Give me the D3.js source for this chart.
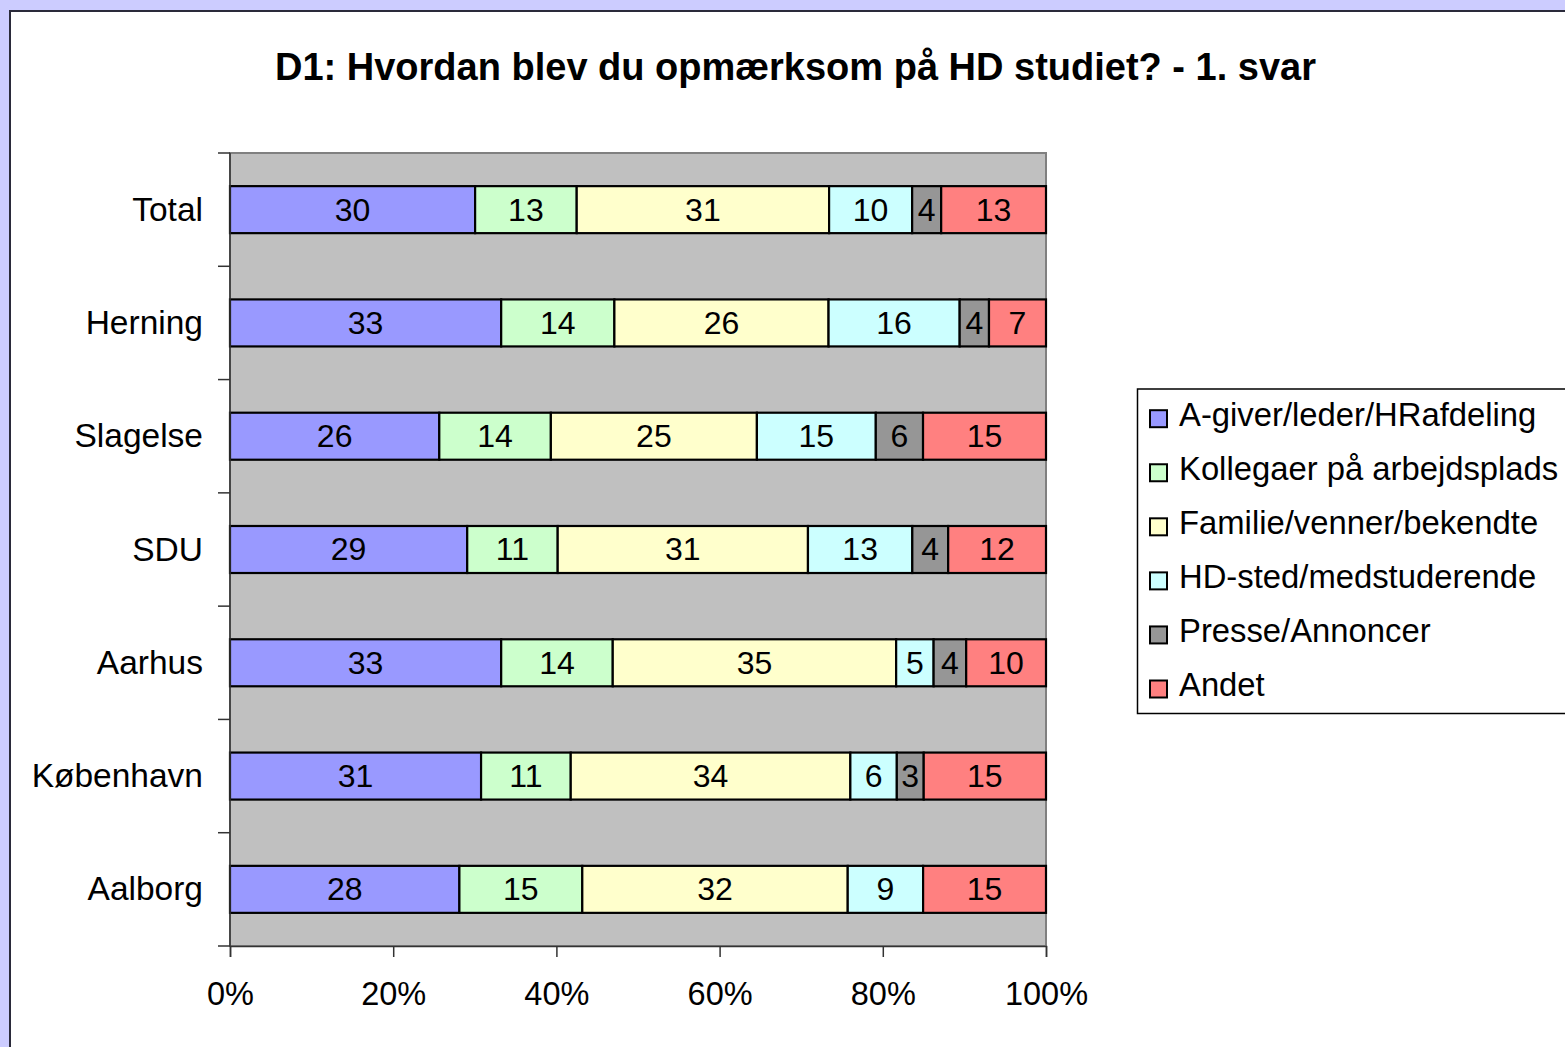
<!DOCTYPE html>
<html>
<head>
<meta charset="utf-8">
<script src="https://cdn.jsdelivr.net/npm/d3@7"></script>
<style>
  html, body { margin: 0; padding: 0; background: #ccccff; }
  svg { display: block; }
  text { font-family: "Liberation Sans", Arial, Helvetica, sans-serif; fill: #000; }
</style>
</head>
<body>
<svg id="chart" width="1565" height="1047"></svg>
<script>
// ---- data ----
const title = "D1: Hvordan blev du opmærksom på HD studiet? - 1. svar";
const categories = ["Total", "Herning", "Slagelse", "SDU", "Aarhus", "København", "Aalborg"];
const seriesNames = ["A-giver/leder/HRafdeling", "Kollegaer på arbejdsplads", "Familie/venner/bekendte",
                     "HD-sted/medstuderende", "Presse/Annoncer", "Andet"];
const seriesColors = ["#9999ff", "#ccffcc", "#ffffcc", "#ccffff", "#969696", "#ff8080"];
const agiver    = [30.4, 33.3, 25.7, 29.1, 33.3, 30.8, 28.0];
const kollegaer = [12.6, 13.9, 13.7, 11.1, 13.7, 11.0, 15.0];
const familie   = [31.3, 26.3, 25.3, 30.7, 34.8, 34.3, 32.4];
const hdsted    = [10.3, 16.1, 14.6, 12.8,  4.6,  5.7,  9.2];
const presse    = [ 3.6,  3.6,  5.8,  4.4,  4.0,  3.3,  0.0];
const andet     = [13.0,  7.0, 15.1, 12.0,  9.8, 15.0, 15.0];
const xTicks = [0, 0.2, 0.4, 0.6, 0.8, 1.0];

const seriesValues = [agiver, kollegaer, familie, hdsted, presse, andet];
const rows = categories.map((c, i) => {
  const r = { category: c };
  seriesNames.forEach((s, j) => r[s] = seriesValues[j][i]);
  return r;
});

const svg = d3.select("#chart");

// outer chart area (white with dark border on left/top)
svg.append("rect").attr("x", 10).attr("y", 11).attr("width", 1600).attr("height", 1100)
  .attr("fill", "#ffffff").attr("stroke", "#2a2a3a").attr("stroke-width", 2);

// title
svg.append("text").attr("x", 795.5).attr("y", 80).attr("text-anchor", "middle")
  .style("font-size", "38px").style("font-weight", "bold").text(title);

// scales
const plot = { left: 230, right: 1046, top: 153, bottom: 946 };
const x = d3.scaleLinear().domain([0, 1]).range([plot.left, plot.right]);
const y = d3.scaleBand().domain(categories).range([plot.top, plot.bottom]).padding(0);
const color = d3.scaleOrdinal().domain(seriesNames).range(seriesColors);
const barH = y.bandwidth() * 0.415;

// plot background
svg.append("rect").attr("x", plot.left).attr("y", plot.top)
  .attr("width", plot.right - plot.left).attr("height", plot.bottom - plot.top)
  .attr("fill", "#c0c0c0").attr("stroke", "#808080").attr("stroke-width", 2);

// stacked (100%) data
const stacked = d3.stack().keys(seriesNames).offset(d3.stackOffsetExpand)(rows);

const g = svg.append("g");
stacked.forEach(layer => {
  const lg = g.append("g");
  lg.selectAll("rect").data(layer.filter(d => d.data[layer.key] > 0)).join("rect")
    .attr("x", d => x(d[0]))
    .attr("y", d => y(d.data.category) + (y.bandwidth() - barH) / 2)
    .attr("width", d => x(d[1]) - x(d[0]))
    .attr("height", barH)
    .attr("fill", color(layer.key))
    .attr("stroke", "#000").attr("stroke-width", 2.2);
});
stacked.forEach(layer => {
  g.append("g").selectAll("text").data(layer.filter(d => d.data[layer.key] > 0)).join("text")
    .attr("x", d => (x(d[0]) + x(d[1])) / 2)
    .attr("y", d => y(d.data.category) + y.bandwidth() / 2)
    .attr("dy", "0.34em")
    .attr("text-anchor", "middle")
    .style("font-size", "32px")
    .text(d => d3.format(".0f")(d.data[layer.key]));
});

// y axis
const yAxisG = svg.append("g");
yAxisG.append("line").attr("x1", plot.left).attr("x2", plot.left)
  .attr("y1", plot.top).attr("y2", plot.bottom).attr("stroke", "#333").attr("stroke-width", 1.5);
const yBounds = categories.map(c => y(c)).concat([plot.bottom]);
yAxisG.selectAll("line.tick").data(yBounds).join("line").attr("class", "tick")
  .attr("x1", plot.left - 12).attr("x2", plot.left)
  .attr("y1", d => d).attr("y2", d => d).attr("stroke", "#333").attr("stroke-width", 1.5);
yAxisG.selectAll("text").data(categories).join("text")
  .attr("x", 203).attr("y", d => y(d) + y.bandwidth() / 2).attr("dy", "0.33em")
  .attr("text-anchor", "end").style("font-size", "33.5px").text(d => d);

// x axis
const xAxis = d3.axisBottom(x).tickValues(xTicks).tickFormat(d3.format(".0%")).tickSize(11).tickPadding(0);
const xAxisG = svg.append("g").attr("transform", `translate(0,${plot.bottom})`).call(xAxis);
xAxisG.select(".domain").attr("stroke", "#333").attr("stroke-width", 1.5);
xAxisG.selectAll(".tick line").attr("stroke", "#333").attr("stroke-width", 1.5);
xAxisG.selectAll(".tick text").attr("y", 59).attr("dy", 0)
  .style("font-size", "32.5px").style("font-family", '"Liberation Sans", Arial, sans-serif').attr("fill", "#000");

// legend
const lgd = svg.append("g");
lgd.append("rect").attr("x", 1137.5).attr("y", 389).attr("width", 500).attr("height", 324.5)
  .attr("fill", "#fff").attr("stroke", "#000").attr("stroke-width", 1.5);
const items = lgd.selectAll("g.item").data(seriesNames).join("g").attr("class", "item")
  .attr("transform", (d, i) => `translate(0,${425.7 + i * 54.06})`);
items.append("rect").attr("x", 1150).attr("y", -15.5).attr("width", 17).attr("height", 17)
  .attr("fill", d => color(d)).attr("stroke", "#000").attr("stroke-width", 2);
items.append("text").attr("x", 1179).attr("y", 0).style("font-size", "32.8px").text(d => d);
</script>
</body>
</html>
